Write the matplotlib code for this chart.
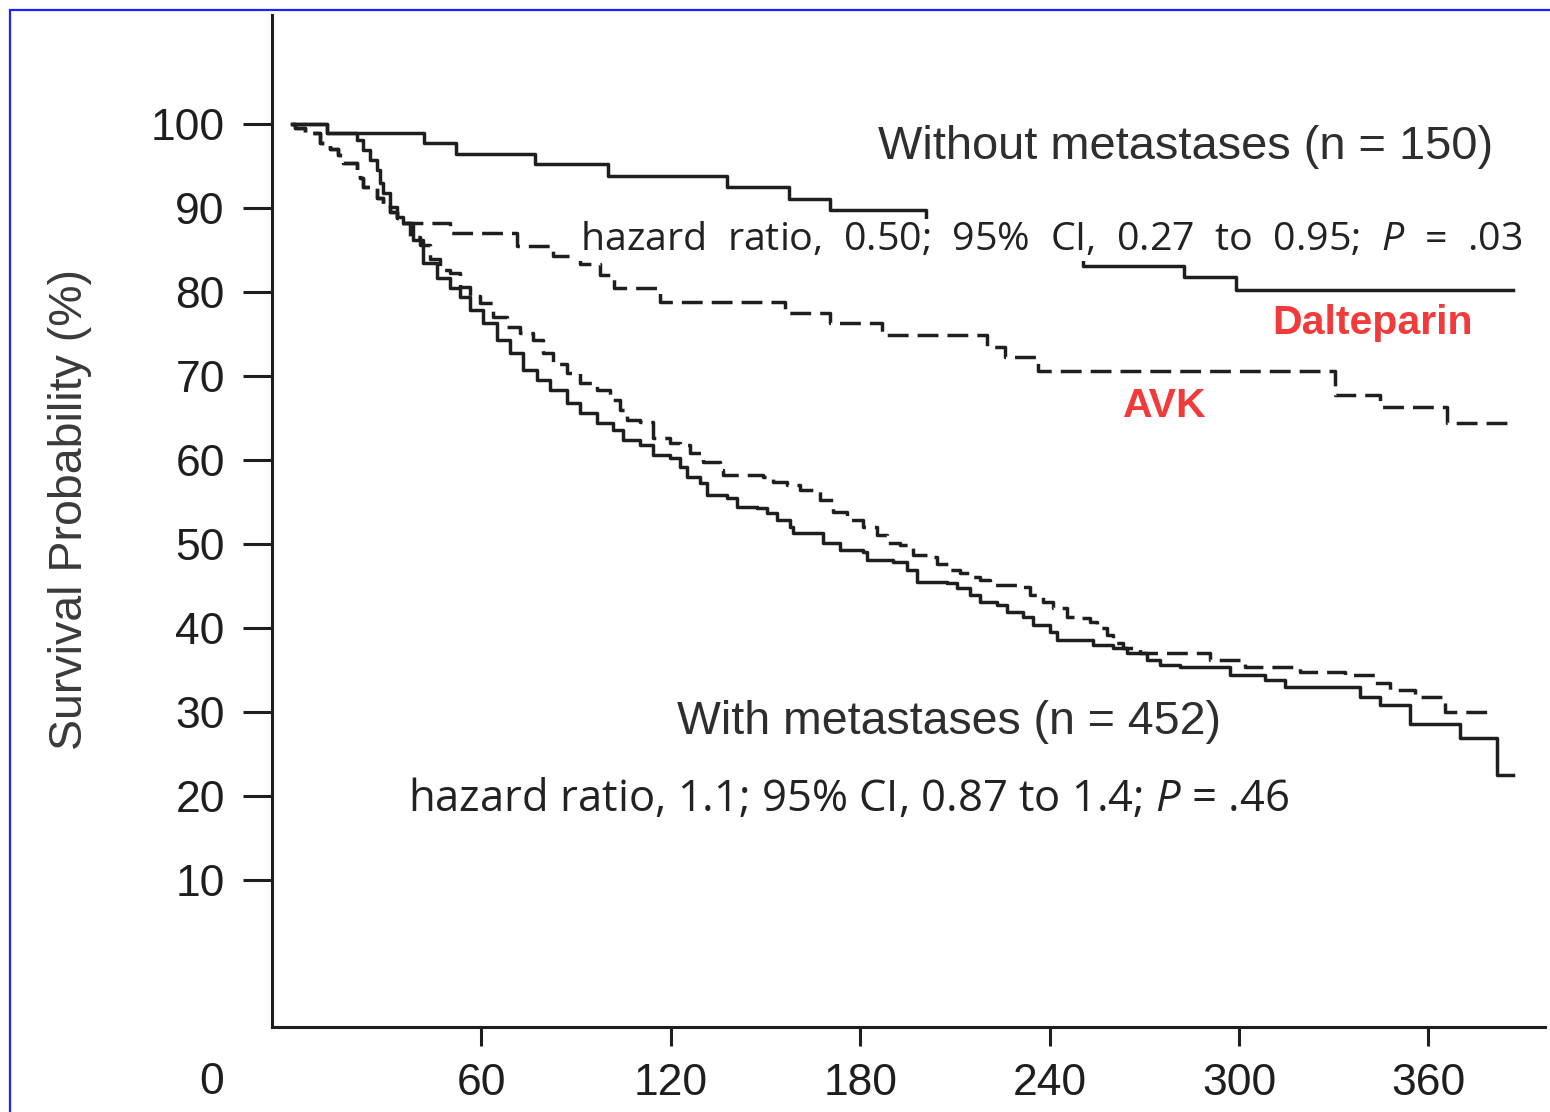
import matplotlib
matplotlib.use('Agg')
import matplotlib.pyplot as plt
from matplotlib.patches import Rectangle

plt.rcParams['font.family'] = ['Liberation Sans', 'DejaVu Sans']
plt.rcParams['mathtext.fontset'] = 'custom'
plt.rcParams['mathtext.it'] = 'Open Sans:italic'
plt.rcParams['mathtext.rm'] = 'Open Sans'

# Kaplan-Meier curves (days, survival %)
# without metastases, dalteparin (solid)
t_nomet_dal = [0, 11.1, 41.8, 51.9, 77.0, 100.1, 137.8, 157.4, 170.4, 200.8,
               250.6, 282.5, 299.0, 386.8]
s_nomet_dal = [100, 99.0, 97.7, 96.5, 95.2, 93.8, 92.5, 91.1, 89.8, 86.0,
               83.1, 81.8, 80.3, 80.3]

# without metastases, AVK (dashed)
t_nomet_avk = [0, 1.0, 4.1, 8.9, 12.0, 14.5, 16.2, 20.6, 21.5, 22.5, 26.9, 28.8,
               31.0, 33.3, 34.2, 50.0, 71.3, 82.7, 91.2, 97.6, 102.0, 116.6,
               156.2, 170.4, 186.9, 220.1, 225.8, 236.3, 330.4, 344.6, 365.9, 386.4]
s_nomet_avk = [100, 99.5, 98.9, 97.7, 97.0, 96.3, 95.4, 94.5, 93.6, 92.5, 91.2, 90.4,
               89.5, 88.8, 88.2, 87.0, 85.5, 84.3, 83.3, 82.0, 80.5, 78.8,
               77.5, 76.3, 74.9, 73.5, 72.3, 70.6, 67.7, 66.3, 64.4, 64.4]

# with metastases, dalteparin (solid)
t_met_dal = [0, 11.1, 20.6, 22.5, 24.7, 26.9, 27.9, 28.8, 31.0, 33.3,
             35.2, 38.3, 41.5, 45.9, 50.0, 53.2, 56.4, 60.5, 64.9, 69.1,
             73.2, 77.6, 81.7, 87.1, 91.2, 96.6, 101.7, 104.8, 110.2, 114.3,
             119.7, 122.9, 125.1, 129.2, 131.5, 137.8, 141.0, 147.3, 150.5, 153.6,
             157.7, 158.7, 168.2, 173.6, 180.9, 182.1, 190.4, 194.8, 198.0, 207.5,
             210.6, 214.8, 217.9, 223.3, 226.5, 231.5, 234.7, 240.1, 242.3, 253.7,
             260.1, 264.5, 270.8, 274.9, 281.3, 297.1, 308.2, 314.5, 338.3, 344.6,
             354.1, 370.0, 381.7, 386.8]
s_met_dal = [100, 99.0, 98.1, 96.9, 95.7, 94.5, 93.0, 91.8, 90.1, 88.9,
             88.2, 86.2, 83.5, 81.7, 80.5, 79.4, 77.9, 76.3, 74.3, 72.7,
             70.7, 69.5, 68.3, 66.8, 65.6, 64.4, 63.6, 62.4, 61.8, 60.6,
             60.2, 59.2, 58.0, 57.3, 55.8, 55.5, 54.4, 54.3, 53.7, 52.9,
             52.0, 51.3, 50.1, 49.3, 49.0, 48.1, 47.9, 46.9, 45.5, 45.4,
             44.8, 43.9, 43.1, 42.7, 41.9, 41.3, 40.4, 39.5, 38.6, 38.0,
             37.6, 37.0, 36.2, 35.6, 35.4, 34.4, 33.8, 33.0, 31.8, 30.8,
             28.6, 26.9, 22.5, 22.5]

# with metastases, AVK (dashed)
t_met_avk = [0, 1.0, 4.1, 8.9, 12.0, 14.5, 16.2, 20.6, 21.5, 22.5, 26.9, 28.8,
             31.0, 33.3,
             34.2, 37.4, 40.5, 43.7, 46.9, 50.0, 53.2, 56.4, 59.5, 63.7,
             68.1, 72.2, 76.3, 79.5, 82.7, 87.1, 91.2, 96.6, 100.7, 103.9,
             106.1, 110.2, 114.3, 119.7, 122.9, 126.1, 130.2, 135.6, 136.5, 149.2,
             152.4, 156.8, 160.9, 167.2, 171.4, 175.8, 180.9, 185.3, 188.5, 192.6,
             196.7, 201.1, 204.3, 208.4, 211.6, 214.8, 217.9, 221.1, 230.6, 233.8,
             237.9, 241.1, 245.5, 249.6, 252.8, 255.0, 258.2, 260.1, 263.2, 268.6,
             290.8, 301.9, 319.3, 333.5, 343.0, 347.8, 355.7, 365.2, 379.5]
s_met_avk = [100, 99.5, 98.9, 97.7, 97.0, 96.3, 95.4, 94.5, 93.6, 92.5, 91.2, 90.4,
             89.5, 88.8,
             88.2, 86.6, 85.6, 84.0, 82.6, 82.3, 80.6, 79.6, 78.7, 77.0,
             75.8, 75.1, 74.3, 72.7, 71.5, 70.4, 69.2, 68.3, 67.1, 66.0,
             64.8, 64.5, 62.6, 62.0, 61.8, 60.9, 59.8, 58.8, 58.2, 58.0,
             57.4, 57.0, 56.4, 55.3, 53.8, 52.9, 52.0, 51.1, 50.1, 49.9,
             48.7, 48.5, 47.6, 46.9, 46.5, 46.1, 45.7, 45.1, 44.9, 43.9,
             43.1, 42.4, 41.3, 41.2, 40.7, 40.0, 39.2, 38.2, 37.6, 37.0,
             36.2, 35.4, 34.8, 34.4, 33.5, 32.6, 31.8, 30.0, 30.0]

x_ticks = [60, 120, 180, 240, 300, 360]
y_ticks = [10, 20, 30, 40, 50, 60, 70, 80, 90, 100]

ink = '#1e1e1e'
red = '#f23a3a'
lw = 2.5
dash = (6, 2.6)

fig = plt.figure(figsize=(15.5, 11.12), dpi=100)
ax = fig.add_axes([272 / 1550, 85 / 1112, 1273 / 1550, 1012 / 1112])

ax.step(t_nomet_dal, s_nomet_dal, where='post', color=ink, lw=lw, zorder=2)
ax.step(t_met_dal, s_met_dal, where='post', color=ink, lw=lw, zorder=2)
ax.step(t_nomet_avk, s_nomet_avk, where='post', color=ink, lw=lw,
        linestyle=(0, dash), zorder=2)
ax.step(t_met_avk, s_met_avk, where='post', color=ink, lw=lw,
        linestyle=(0, dash), zorder=2)

ax.set_xlim(-6.3, 396.9)
ax.set_ylim(-7.5, 113.0)

for side in ['top', 'right']:
    ax.spines[side].set_visible(False)
for side in ['left', 'bottom']:
    ax.spines[side].set_linewidth(2.2)
    ax.spines[side].set_color(ink)

ax.set_xticks(x_ticks)
ax.set_yticks(y_ticks)
ax.tick_params(axis='y', direction='out', length=21, width=2.2, pad=13,
               labelsize=32, colors=ink)
ax.tick_params(axis='x', direction='out', length=14, width=2.2, pad=12,
               labelsize=32, colors=ink)

# stray "0" printed left of the origin in the scan
fig.text(212 / 1550, 1 - 1082 / 1112, '0', fontsize=32, color=ink,
         ha='center', va='center')

fig.text(70 / 1550, 1 - 510 / 1112, 'Survival Probability (%)', fontsize=33.5,
         color='#3a3a3a', rotation=90, ha='center', va='center')

ax.text(283.2, 97.3, 'Without metastases (n = 150)', fontsize=33.8,
        color='#2e2e2e', ha='center', va='center')
ax.text(91.2, 86.2, 'hazard  ratio,  0.50;  95%  CI,  0.27  to  0.95;  $P$  =  .03',
        fontsize=28.4, family='Open Sans', color='#222222', ha='left', va='center',
        zorder=3, bbox=dict(facecolor='white', edgecolor='none', pad=1))

ax.text(208.1, 28.8, 'With metastases (n = 452)', fontsize=33.5,
        color='#2e2e2e', ha='center', va='center')
ax.text(36.7, 19.5, 'hazard ratio, 1.1; 95% CI, 0.87 to 1.4; $P$ = .46',
        fontsize=31.4, family='Open Sans', color='#222222', ha='left', va='center',
        zorder=3)

ax.text(342.4, 76.3, 'Dalteparin', fontsize=29.5, fontweight='bold', color=red,
        ha='center', va='center')
ax.text(276.5, 66.5, 'AVK', fontsize=29.5, fontweight='bold', color=red,
        ha='center', va='center')

# blue frame around the scanned figure
fig.add_artist(Rectangle((10 / 1550, -0.02), 1.05, 1.02 - 10 / 1112,
                         transform=fig.transFigure, fill=False,
                         edgecolor='#2020ff', lw=1.6))

fig.savefig('out.png', dpi=100)
